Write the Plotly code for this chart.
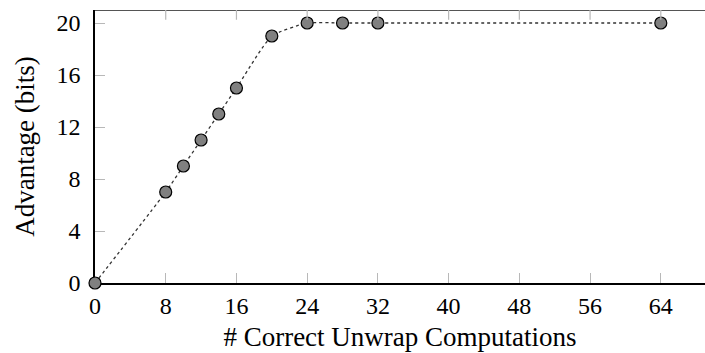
import plotly.graph_objects as go

x_vals = [0, 8, 10, 12, 14, 16, 20, 24, 28, 32, 64]
y_vals = [0, 7, 9, 11, 13, 15, 19, 20, 20, 20, 20]
x_ticks = [0, 8, 16, 24, 32, 40, 48, 56, 64]
y_ticks = [0, 4, 8, 12, 16, 20]

FONT = "'Liberation Serif', 'Times New Roman', serif"
F = dict(family=FONT, size=24, color="black")
FT = dict(family=FONT, size=27, color="black")

fig = go.Figure()
fig.add_trace(go.Scatter(
    x=x_vals, y=y_vals, mode="lines+markers",
    line=dict(color="#333333", width=1.3, dash="dot", shape="spline", smoothing=0.5),
    marker=dict(size=12, color="#808080", line=dict(color="#000000", width=1.2)),
    cliponaxis=False, showlegend=False,
))

shapes = [
    dict(type="line", xref="paper", yref="y", x0=0, x1=1, y0=21, y1=21,
         line=dict(color="#555555", width=2), layer="above"),
]
for t in x_ticks[1:]:
    shapes.append(dict(type="line", xref="x", yref="y", x0=t, x1=t, y0=21, y1=20.25,
                       line=dict(color="#b8b8b8", width=1.2), layer="above"))

fig.update_layout(
    width=705, height=353,
    margin=dict(l=95, r=0, t=10, b=70),
    paper_bgcolor="white", plot_bgcolor="white",
    font=F,
    xaxis=dict(
        range=[0, 69], tickvals=x_ticks, ticktext=[str(v) for v in x_ticks],
        showgrid=False, zeroline=False, showline=True, linecolor="black", linewidth=1.5,
        ticks="inside", ticklen=10, tickcolor="#b8b8b8", tickwidth=1.2,
        layer="below traces",
        title=dict(text="# Correct Unwrap Computations", font=FT, standoff=10),
        tickfont=F,
    ),
    yaxis=dict(
        range=[0, 21], tickvals=y_ticks, ticktext=[str(v) for v in y_ticks],
        showgrid=False, zeroline=False, showline=True, linecolor="black", linewidth=1.5,
        ticks="inside", ticklen=10, tickcolor="#b8b8b8", tickwidth=1.2,
        layer="below traces", ticklabelstandoff=8,
        title=dict(text="Advantage (bits)", font=FT, standoff=14),
        tickfont=F,
    ),
    shapes=shapes,
)

fig.write_html("out.html")
